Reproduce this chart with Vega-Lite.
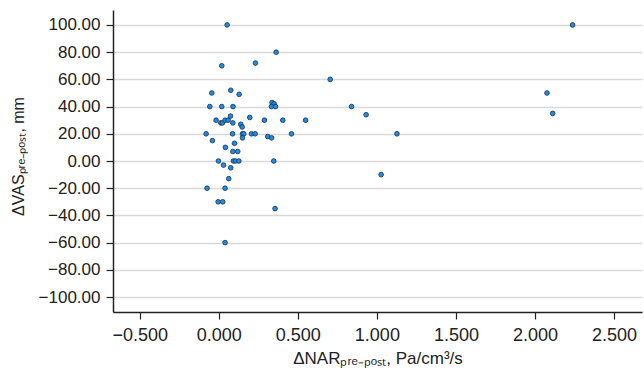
{
  "$schema": "https://vega.github.io/schema/vega-lite/v6.json",
  "autosize": {"type": "none"},
  "padding": {"left": 113, "top": 10, "right": 2, "bottom": 63},
  "width": 529,
  "height": 302,
  "background": "white",
  "config": {
    "view": {"stroke": null},
    "font": "Liberation Sans"
  },
  "data": {
    "values": [
      {"nar": 0.053, "vas": 100}, {"nar": 0.363, "vas": 80}, {"nar": 0.019, "vas": 70}, {"nar": 0.232, "vas": 72},
      {"nar": 0.705, "vas": 60}, {"nar": -0.044, "vas": 50}, {"nar": 0.076, "vas": 52}, {"nar": 0.129, "vas": 49},
      {"nar": 0.337, "vas": 43}, {"nar": 0.350, "vas": 42}, {"nar": 0.333, "vas": 40}, {"nar": 0.359, "vas": 40},
      {"nar": -0.057, "vas": 40}, {"nar": 0.019, "vas": 40}, {"nar": 0.090, "vas": 40}, {"nar": 0.840, "vas": 40},
      {"nar": 0.932, "vas": 34}, {"nar": -0.017, "vas": 30}, {"nar": 0.013, "vas": 28}, {"nar": 0.023, "vas": 28},
      {"nar": 0.040, "vas": 30}, {"nar": 0.059, "vas": 30}, {"nar": 0.074, "vas": 33}, {"nar": 0.089, "vas": 28},
      {"nar": 0.139, "vas": 27}, {"nar": 0.148, "vas": 25}, {"nar": 0.196, "vas": 32}, {"nar": 0.289, "vas": 30},
      {"nar": 0.405, "vas": 30}, {"nar": 0.549, "vas": 30}, {"nar": -0.080, "vas": 20}, {"nar": 0.087, "vas": 20},
      {"nar": 0.150, "vas": 20}, {"nar": 0.158, "vas": 20}, {"nar": 0.150, "vas": 17}, {"nar": 0.207, "vas": 20},
      {"nar": 0.230, "vas": 20}, {"nar": 0.310, "vas": 18}, {"nar": 0.334, "vas": 17}, {"nar": 0.460, "vas": 20},
      {"nar": 1.127, "vas": 20}, {"nar": -0.040, "vas": 15}, {"nar": 0.042, "vas": 10}, {"nar": 0.099, "vas": 13},
      {"nar": 0.089, "vas": 7}, {"nar": 0.120, "vas": 7}, {"nar": -0.002, "vas": 0}, {"nar": 0.093, "vas": 0},
      {"nar": 0.106, "vas": 0}, {"nar": 0.127, "vas": 0}, {"nar": 0.348, "vas": 0}, {"nar": 0.030, "vas": -3},
      {"nar": 0.076, "vas": -5}, {"nar": 1.027, "vas": -10}, {"nar": 0.063, "vas": -13}, {"nar": -0.074, "vas": -20},
      {"nar": 0.040, "vas": -20}, {"nar": -0.004, "vas": -30}, {"nar": 0.025, "vas": -30}, {"nar": 0.356, "vas": -35},
      {"nar": 0.040, "vas": -60}, {"nar": 2.238, "vas": 100}, {"nar": 2.076, "vas": 50}, {"nar": 2.112, "vas": 35}
    ]
  },
  "mark": {"type": "point", "filled": true, "shape": "circle", "size": 22, "fill": "#1e8ce0", "fillOpacity": 1, "stroke": "#1a2f4a", "strokeWidth": 0.8},
  "encoding": {
    "x": {
      "field": "nar", "type": "quantitative",
      "scale": {"domain": [-0.669, 2.677], "nice": false, "zero": false},
      "axis": {
        "values": [-0.5, 0, 0.5, 1, 1.5, 2, 2.5],
        "format": ".3f",
        "grid": false,
        "domainColor": "#222", "domainWidth": 1.5,
        "tickColor": "#222", "tickWidth": 1.2, "tickSize": 7,
        "labelFontSize": 18, "labelColor": "#222", "labelPadding": 7,
        "title": "ΔNARₚᵣₑ₋ₚₒₛₜ, Pa/cm³/s",
        "titleFontSize": 17, "titleFontWeight": "normal", "titleColor": "#222",
        "titleX": 264.5, "titleY": 51, "titleBaseline": "alphabetic", "titleAlign": "center"
      }
    },
    "y": {
      "field": "vas", "type": "quantitative",
      "scale": {"domain": [-111, 111], "nice": false, "zero": false},
      "axis": {
        "values": [-100, -80, -60, -40, -20, 0, 20, 40, 60, 80, 100],
        "format": ".2f",
        "grid": true, "gridColor": "#d9d9d9", "gridWidth": 1.5,
        "domainColor": "#222", "domainWidth": 1.5,
        "tickColor": "#222", "tickWidth": 1.2, "tickSize": 7,
        "labelFontSize": 17, "labelColor": "#222", "labelPadding": 6,
        "title": "ΔVASₚᵣₑ₋ₚₒₛₜ, mm",
        "titleFontSize": 16, "titleFontWeight": "normal", "titleColor": "#222",
        "titleAngle": -90, "titleX": -90, "titleY": 146, "titleBaseline": "alphabetic", "titleAlign": "center"
      }
    }
  }
}
